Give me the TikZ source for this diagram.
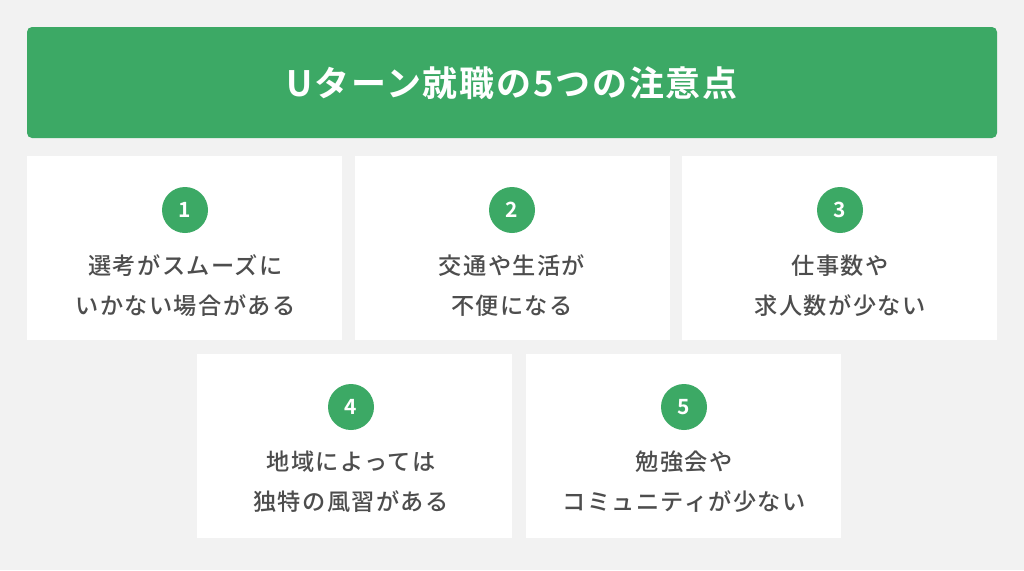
\documentclass[tikz,border=0pt]{standalone}
\usepackage{fontspec}
\newfontfamily\jpfont[LetterSpace=6]{Noto Sans CJK JP Medium}
\newfontfamily\jptitle[LetterSpace=5]{Noto Sans CJK JP Bold}
\newfontfamily\jpnum{Noto Sans CJK JP Bold}
\definecolor{bggray}{HTML}{F2F2F2}
\definecolor{headgreen}{HTML}{3CA965}
\definecolor{textgray}{HTML}{4D4D4D}
\tikzset{
  card/.style={fill=white, minimum width=315pt, minimum height=184pt, inner sep=0pt},
  numdot/.style={circle, fill=headgreen, minimum size=46pt, inner sep=0pt, text=white, font=\jpnum\fontsize{21}{21}\selectfont},
  cardtext/.style={inner sep=0pt, text=textgray, font=\jpfont\fontsize{23.2}{23.2}\selectfont, anchor=center}
}
\begin{document}
\begin{tikzpicture}[x=1pt,y=-1pt]

\fill [bggray] (0,0) rectangle (1024,570);
\useasboundingbox (0,0) rectangle (1024,570);

\node [fill=headgreen, rounded corners=5pt, minimum width=970pt, minimum height=111pt, inner sep=0pt] (head) at (512,82.5) {};
\node [text=white, inner sep=0pt, font=\jptitle\fontsize{35}{35}\selectfont] (title) at (512,83) {Uターン就職の5つの注意点};

\node [card] (c1) at (184.5,248) {};
\node [card] (c2) at (512.5,248) {};
\node [card] (c3) at (839.5,248) {};
\node [card] (c4) at (354.5,446) {};
\node [card] (c5) at (683,446) {};

\node [numdot] (n1) at (185,210) {1};
\node [numdot] (n2) at (512,210) {2};
\node [numdot] (n3) at (840,210) {3};
\node [numdot] (n4) at (351,407) {4};
\node [numdot] (n5) at (684,407) {5};

\node [cardtext] (t1a) at (185.5,266) {選考がスムーズに};
\node [cardtext] (t1b) at (185.5,306) {いかない場合がある};
\node [cardtext] (t2a) at (512,266) {交通や生活が};
\node [cardtext] (t2b) at (512,306) {不便になる};
\node [cardtext] (t3a) at (840,266) {仕事数や};
\node [cardtext] (t3b) at (840,306) {求人数が少ない};
\node [cardtext] (t4a) at (351,462) {地域によっては};
\node [cardtext] (t4b) at (351,502) {独特の風習がある};
\node [cardtext] (t5a) at (684,462) {勉強会や};
\node [cardtext] (t5b) at (684,502) {コミュニティが少ない};

\end{tikzpicture}
\end{document}
